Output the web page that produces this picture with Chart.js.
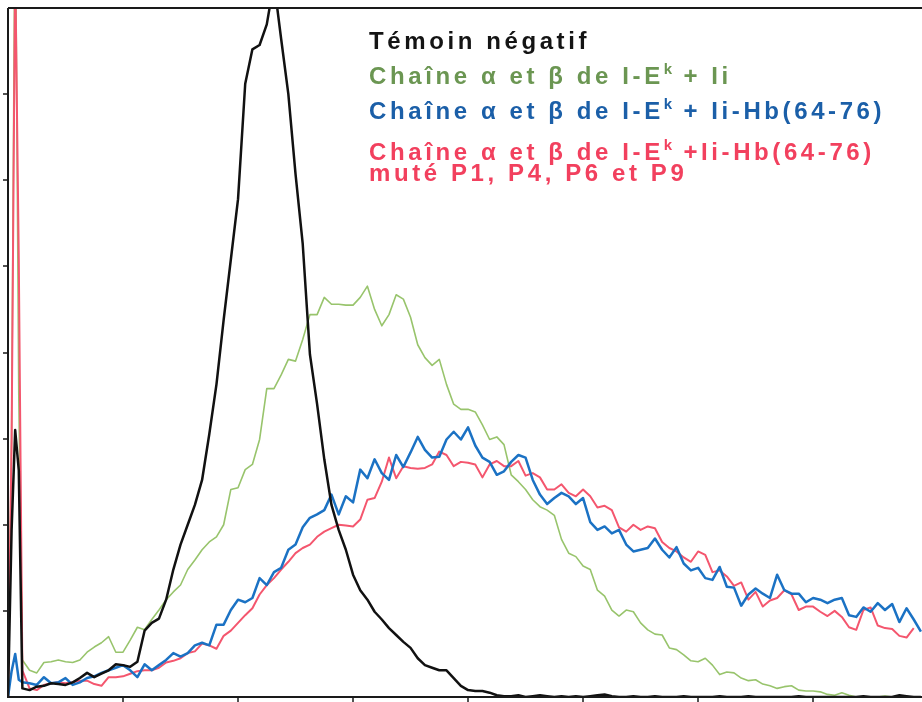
<!DOCTYPE html>
<html lang="fr">
<head>
<meta charset="utf-8">
<title>Histogrammes de fluorescence</title>
<script src="https://cdn.jsdelivr.net/npm/chart.js@4.4.1/dist/chart.umd.min.js"></script>
<style>
  html, body { margin: 0; padding: 0; background: #fff; }
  #wrap { position: relative; width: 922px; height: 702px; }
  #legend {
    position: absolute; left: 369px; top: 0;
    font-family: "Liberation Sans", Arial, sans-serif;
    font-weight: bold; font-size: 24px; letter-spacing: 3.6px;
    white-space: nowrap;
  }
  #legend div { position: absolute; left: 0; line-height: 24px; }
  #legend sup { font-size: 15px; vertical-align: 0; position: relative; top: -10px; letter-spacing: 1px; }
</style>
</head>
<body>
<div id="wrap">
  <canvas id="histo" width="922" height="702"></canvas>
  <div id="legend">
    <div style="top:29px;color:#141414">Témoin négatif</div>
    <div style="top:64px;color:#6b9652">Chaîne α et β de I-E<sup>k</sup> + Ii</div>
    <div style="top:99px;color:#1b5fa8">Chaîne α et β de I-E<sup>k</sup> + Ii-Hb(64-76)</div>
    <div style="top:140px;color:#f2405e">Chaîne α et β de I-E<sup>k</sup> +Ii-Hb(64-76)</div>
    <div style="top:161px;color:#f2405e">muté P1, P4, P6 et P9</div>
  </div>
</div>
<script>
// fluorescence channel (x) and cell counts per channel for each sample
const channels = [0, 1, 2, 3,
  4, 6, 8, 10, 12, 14, 16, 18, 20, 22, 24, 26, 28, 30, 32, 34, 36, 38, 40,
  42, 44, 46, 48, 50, 52, 54, 56, 58, 60, 62, 64, 66, 68, 70, 72, 74, 76, 78, 80,
  82, 84, 86, 88, 90, 92, 94, 96, 98, 100, 102, 104, 106, 108, 110, 112, 114, 116, 118, 120,
  122, 124, 126, 128, 130, 132, 134, 136, 138, 140, 142, 144, 146, 148, 150, 152, 154, 156, 158, 160,
  162, 164, 166, 168, 170, 172, 174, 176, 178, 180, 182, 184, 186, 188, 190, 192, 194, 196, 198, 200,
  202, 204, 206, 208, 210, 212, 214, 216, 218, 220, 222, 224, 226, 228, 230, 232, 234, 236, 238, 240,
  242, 244, 246, 248, 250, 252, 254];

const temoinNegatif = [0, 194, 310, 263,
  10, 8, 12, 13, 16, 15, 14, 17, 22, 28, 23, 27, 31, 38, 37, 35, 41, 77, 86,
  91, 113, 148, 177, 200, 223, 252, 305, 363, 438, 508, 578, 712, 752, 757, 781, 830, 764, 700, 607,
  526, 398, 340, 276, 223, 194, 171, 142, 124, 113, 99, 90, 80, 72, 64, 57, 45, 37, 34, 31,
  31, 22, 13, 8, 7, 7, 5, 2, 1, 1, 2, 0, 1, 2, 1, 0, 1, 0, 1, 0,
  1, 2, 3, 1, 0, 0, 1, 0, 0, 1, 0, 0, 0, 1, 0, 0, 0, 0, 1, 0,
  0, 0, 1, 0, 0, 0, 0, 0, 0, 1, 0, 0, 0, 0, 0, 0, 0, 0, 1, 0,
  0, 0, 0, 2, 1, 0, 0];

const chaineIi = [0, 300, 950, 350,
  43, 31, 28, 40, 41, 43, 41, 40, 43, 52, 58, 63, 70, 52, 52, 66, 81, 78, 90,
  101, 113, 122, 130, 148, 159, 171, 180, 186, 200, 241, 243, 264, 270, 299, 358, 358, 374, 392, 390,
  415, 444, 444, 464, 456, 456, 455, 455, 464, 477, 450, 431, 444, 467, 462, 441, 409, 394, 385, 392,
  363, 340, 334, 334, 331, 316, 299, 302, 293, 258, 250, 241, 229, 221, 217, 211, 183, 167, 163, 152,
  148, 124, 117, 101, 94, 101, 99, 86, 78, 73, 72, 57, 55, 49, 42, 41, 45, 37, 26, 29,
  28, 22, 19, 20, 15, 13, 10, 12, 13, 8, 7, 7, 6, 3, 2, 5, 2, 0, 0, 0,
  0, 1, 0, 0, 0, 0, 0];

const chaineIiHb = [0, 30, 50, 20,
  17, 16, 14, 23, 16, 17, 22, 14, 17, 22, 24, 28, 31, 34, 37, 31, 23, 38, 31,
  37, 43, 51, 47, 51, 60, 63, 60, 84, 84, 101, 113, 110, 115, 138, 130, 145, 150, 171, 177,
  197, 208, 212, 217, 235, 212, 233, 226, 264, 254, 276, 260, 252, 281, 267, 284, 302, 287, 278, 279,
  299, 308, 299, 313, 292, 278, 273, 258, 262, 273, 281, 278, 252, 235, 224, 231, 237, 233, 224, 231,
  203, 194, 198, 190, 194, 177, 169, 171, 173, 184, 171, 162, 174, 155, 147, 150, 138, 136, 151, 128,
  127, 106, 119, 126, 120, 115, 142, 124, 120, 120, 110, 115, 113, 109, 113, 115, 95, 93, 104, 99,
  109, 101, 108, 87, 103, 90, 76];

const chaineIiHbMute = [0, 299, 850, 508,
  31, 10, 8, 14, 16, 17, 16, 17, 19, 19, 15, 13, 23, 23, 24, 27, 30, 31, 31,
  34, 40, 42, 45, 51, 53, 62, 60, 56, 71, 77, 86, 95, 103, 119, 130, 138, 148, 157, 167,
  173, 177, 186, 192, 196, 200, 199, 198, 206, 229, 231, 250, 278, 254, 268, 266, 265, 266, 270, 285,
  281, 268, 273, 272, 270, 255, 270, 274, 268, 268, 274, 257, 260, 255, 241, 241, 247, 237, 233, 241,
  233, 220, 222, 217, 197, 192, 200, 194, 198, 196, 180, 173, 169, 162, 157, 169, 165, 145, 147, 140,
  129, 133, 113, 122, 105, 112, 115, 124, 119, 101, 105, 105, 99, 94, 100, 93, 81, 78, 101, 104,
  83, 80, 79, 71, 69, 80, null];

const xTicks = [32, 64, 96, 128, 160, 192, 224];
const yTicks = [100, 200, 300, 400, 500, 600, 700];

const toPoints = vals => channels.map((c, i) => ({ x: c, y: vals[i] }));

// axis lines, top rule and outward tick marks
const frameAxes = {
  id: 'frameAxes',
  afterDraw(chart) {
    const { ctx, chartArea: a, scales: { x, y } } = chart;
    ctx.save();
    ctx.strokeStyle = '#1a1a1a';
    ctx.lineWidth = 2;
    ctx.beginPath();
    ctx.moveTo(a.left, a.top); ctx.lineTo(a.right, a.top);
    ctx.moveTo(a.left, a.top); ctx.lineTo(a.left, a.bottom);
    ctx.moveTo(a.left - 1, a.bottom); ctx.lineTo(a.right, a.bottom);
    ctx.stroke();
    ctx.lineWidth = 1.5;
    ctx.beginPath();
    yTicks.forEach(v => {
      const py = Math.round(y.getPixelForValue(v));
      ctx.moveTo(a.left - 5, py); ctx.lineTo(a.left, py);
    });
    xTicks.forEach(v => {
      const px = Math.round(x.getPixelForValue(v));
      ctx.moveTo(px, a.bottom); ctx.lineTo(px, a.bottom + 5);
    });
    ctx.stroke();
    ctx.restore();
  }
};

new Chart(document.getElementById('histo'), {
  type: 'line',
  data: {
    datasets: [
      { label: 'Témoin négatif', data: toPoints(temoinNegatif), borderColor: '#111111', borderWidth: 2.5, order: 0 },
      { label: 'Ii-Hb(64-76)', data: toPoints(chaineIiHb), borderColor: '#1b72c4', borderWidth: 2.5, order: 1 },
      { label: 'Ii-Hb(64-76) muté', data: toPoints(chaineIiHbMute), borderColor: '#f4566e', borderWidth: 2, order: 2 },
      { label: 'Ii', data: toPoints(chaineIi), borderColor: '#98c46c', borderWidth: 1.6, order: 3 }
    ]
  },
  options: {
    responsive: false,
    animation: false,
    devicePixelRatio: 1,
    layout: { padding: { left: 8, top: 8, right: 0, bottom: 5 } },
    elements: {
      point: { radius: 0 },
      line: { tension: 0, borderJoinStyle: 'round', fill: false }
    },
    scales: {
      x: { type: 'linear', min: 0, max: 254.3, display: false },
      y: { min: 0, max: 800, display: false }
    },
    plugins: {
      legend: { display: false },
      tooltip: { enabled: false }
    }
  },
  plugins: [frameAxes]
});
</script>
</body>
</html>
